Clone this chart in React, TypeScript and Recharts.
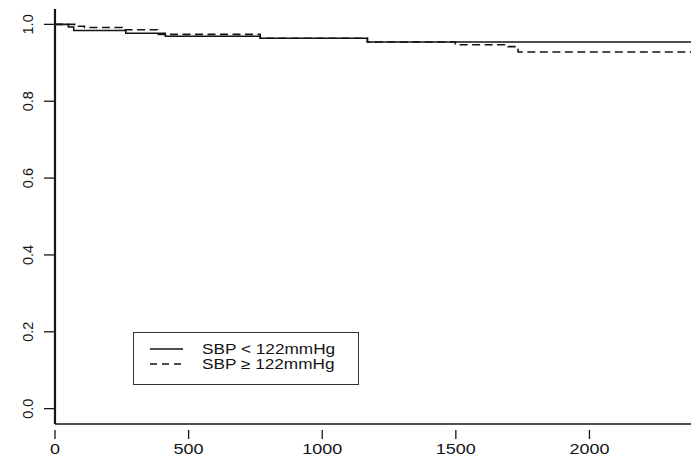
import React from "react";
import { LineChart, Line, XAxis, YAxis } from "recharts";

// Kaplan-Meier step data (time in days, survival probability)
const timesLow = [0, 50, 70, 265, 413, 768, 1169, 2380];
const survLow = [1.0, 0.993, 0.984, 0.977, 0.969, 0.964, 0.954, 0.954];

const timesHigh = [0, 88, 110, 252, 383, 768, 1169, 1498, 1696, 1733, 2380];
const survHigh = [1.0, 0.995, 0.992, 0.986, 0.974, 0.964, 0.954, 0.947, 0.942, 0.928, 0.928];

const seriesNames = ["SBP < 122mmHg", "SBP \u2265 122mmHg"];
const xTicks = [0, 500, 1000, 1500, 2000];
const yTicks = [0.0, 0.2, 0.4, 0.6, 0.8, 1.0];

const lowData = timesLow.map((t, i) => ({ t, s: survLow[i] }));
const highData = timesHigh.map((t, i) => ({ t, s: survHigh[i] }));

const FONT = "'Liberation Sans', Arial, Helvetica, sans-serif";
const INK = "#151515";

const XTick = (props: any) => {
  const { x, y, payload } = props;
  return (
    <g>
      <line x1={x} x2={x} y1={y - 2} y2={y + 7} stroke={INK} strokeWidth={1.3} />
      <text
        transform={`translate(${x},${y + 22}) scale(1.2,1)`}
        textAnchor="middle"
        fontFamily={FONT}
        fontSize={15}
        fill={INK}
      >
        {payload.value}
      </text>
    </g>
  );
};

const YTick = (props: any) => {
  const { y, payload } = props;
  const bx = 33;
  return (
    <g>
      <line x1={44} x2={55} y1={y} y2={y} stroke={INK} strokeWidth={1.3} />
      <text
        x={bx}
        y={y}
        transform={`rotate(-90, ${bx}, ${y})`}
        textAnchor="middle"
        fontFamily={FONT}
        fontSize={14.5}
        fill={INK}
      >
        {Number(payload.value).toFixed(1)}
      </text>
    </g>
  );
};

const LegendBox = () => (
  <div style={{ position: "absolute", left: 133, top: 332 }}>
    <svg width={227} height={54}>
      <rect x={0.5} y={0.5} width={225} height={52} fill="#fff" stroke="#333" strokeWidth={1} />
      <line x1={17} x2={50} y1={17} y2={17} stroke={INK} strokeWidth={1.5} />
      <line x1={17} x2={50} y1={32} y2={32} stroke={INK} strokeWidth={1.5} strokeDasharray="7 5" />
      {seriesNames.map((n, i) => (
        <text
          key={n}
          transform={`translate(69,${21.5 + i * 15}) scale(1.23,1)`}
          fontFamily={FONT}
          fontSize={14}
          fill={INK}
        >
          {n}
        </text>
      ))}
    </svg>
  </div>
);

export default function App() {
  return (
    <div style={{ position: "absolute", left: 0, top: 0, width: 691, height: 459, background: "#fff" }}>
      <LineChart width={691} height={459} margin={{ top: 9, right: 0, left: 0, bottom: 0 }}>
        <XAxis
          dataKey="t"
          type="number"
          domain={[0, 2380]}
          ticks={xTicks}
          tick={<XTick />}
          tickLine={false}
          axisLine={{ stroke: INK, strokeWidth: 1.6 }}
          height={35}
          allowDataOverflow
        />
        <XAxis
          xAxisId="top"
          orientation="top"
          type="number"
          domain={[0, 2380]}
          tick={false}
          tickLine={false}
          axisLine={{ stroke: INK, strokeWidth: 1.6 }}
          height={0}
        />
        <YAxis
          type="number"
          domain={[-0.04, 1.04]}
          ticks={yTicks}
          tick={<YTick />}
          tickLine={false}
          axisLine={{ stroke: INK, strokeWidth: 2.2 }}
          width={55}
          allowDataOverflow
        />
        <Line
          data={lowData}
          dataKey="s"
          type="stepAfter"
          stroke={INK}
          strokeWidth={1.6}
          dot={false}
          isAnimationActive={false}
          name={seriesNames[0]}
        />
        <Line
          data={highData}
          dataKey="s"
          type="stepAfter"
          stroke={INK}
          strokeWidth={1.6}
          strokeDasharray="8 4.5"
          dot={false}
          isAnimationActive={false}
          name={seriesNames[1]}
        />
      </LineChart>
      <LegendBox />
    </div>
  );
}
